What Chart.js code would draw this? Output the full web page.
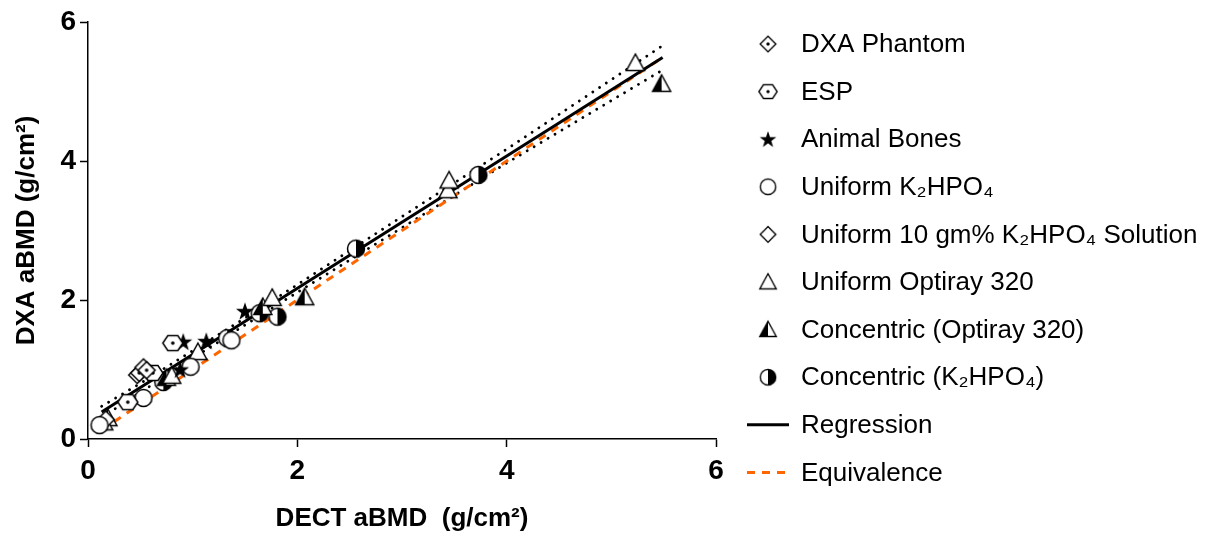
<!DOCTYPE html>
<html>
<head>
<meta charset="utf-8">
<script src="https://cdn.jsdelivr.net/npm/chart.js@4/dist/chart.umd.min.js"></script>
<style>
  html, body { margin: 0; background: #fff; }
  #wrap { width: 1214px; height: 537px; }
</style>
</head>
<body>
<div id="wrap"><canvas id="bmdChart"></canvas></div>
<script>
// values, aBMD in g/cm2
const dxaPhantomX = [0.49, 0.53, 0.56];
const dxaPhantomY = [0.95, 1.03, 0.99];
const espX = [0.38, 0.62, 0.81];
const espY = [0.53, 0.95, 1.38];
const boneX = [0.88, 0.91, 1.13, 1.50];
const boneY = [1.00, 1.40, 1.41, 1.84];
const uniK2X = [0.11, 0.53, 0.98, 1.37];
const uniK2Y = [0.20, 0.59, 1.04, 1.42];
const solX = [0.17, 0.47];
const solY = [0.28, 0.92];
const uniOptX = [0.15, 0.80, 1.05, 1.76, 3.44, 3.45, 5.23];
const uniOptY = [0.24, 0.91, 1.25, 2.03, 3.58, 3.72, 5.41];
const concOptX = [0.19, 0.75, 1.67, 2.07, 5.48];
const concOptY = [0.30, 0.88, 1.90, 2.04, 5.11];
const concK2X = [0.72, 1.33, 1.64, 1.81, 2.56, 3.73];
const concK2Y = [0.82, 1.45, 1.81, 1.76, 2.74, 3.80];

// fitted line and its 95% band
const regX = [0.13, 5.49];
const regY = [0.39, 5.49];
const bandX = [0.13, 0.5, 1, 1.5, 2, 3, 4, 5.49];
const bandUpper = [0.47, 0.80, 1.27, 1.74, 2.22, 3.20, 4.17, 5.66];
const bandLower = [0.31, 0.67, 1.16, 1.64, 2.11, 3.04, 3.97, 5.31];
const equivX = [0.13, 5.49];
const equivY = [0.13, 5.49];

const xTicks = [0, 2, 4, 6];
const yTicks = [0, 2, 4, 6];

const legendNames = [
  'DXA Phantom', 'ESP', 'Animal Bones', 'Uniform K\u2082HPO\u2084',
  'Uniform 10 gm% K\u2082HPO\u2084 Solution', 'Uniform Optiray 320',
  'Concentric (Optiray 320)', 'Concentric (K\u2082HPO\u2084)', 'Regression', 'Equivalence'
];

const ORANGE = 'rgb(255,102,0)';
const FONT = "'Liberation Sans', Arial, sans-serif";

function pts(xs, ys) {
  return xs.map((x, i) => ({ x: x, y: ys[i] }));
}

// marker images
function marker(draw) {
  const c = document.createElement('canvas');
  c.width = 24; c.height = 24;
  const g = c.getContext('2d');
  g.translate(12, 12);
  g.lineWidth = 1.5;
  g.strokeStyle = '#000';
  g.fillStyle = '#fff';
  draw(g);
  return c;
}
function polyPath(g, p) {
  g.beginPath();
  g.moveTo(p[0][0], p[0][1]);
  for (let i = 1; i < p.length; i++) g.lineTo(p[i][0], p[i][1]);
  g.closePath();
}
const diamondPts = [[0, -8.5], [8.5, 0], [0, 8.5], [-8.5, 0]];
const triPts = [[0, -9], [9, 7.5], [-9, 7.5]];
const hexPts = [[-10, 0], [-5, -7.5], [5, -7.5], [10, 0], [5, 7.5], [-5, 7.5]];

const mDiamondDot = marker(g => {
  polyPath(g, diamondPts); g.fill(); g.stroke();
  g.fillStyle = '#000'; g.beginPath(); g.arc(0, 0, 1.8, 0, Math.PI * 2); g.fill();
});
const mHexDot = marker(g => {
  polyPath(g, hexPts); g.fill(); g.stroke();
  g.fillStyle = '#000'; g.beginPath(); g.arc(0, 0, 1.8, 0, Math.PI * 2); g.fill();
});
const mStar = marker(g => {
  const p = [];
  for (let i = 0; i < 10; i++) {
    const r = i % 2 ? 3.8 : 9.5;
    const a = -Math.PI / 2 + i * Math.PI / 5;
    p.push([r * Math.cos(a), r * Math.sin(a) + 0.8]);
  }
  polyPath(g, p); g.fillStyle = '#000'; g.fill();
});
const mCircle = marker(g => {
  g.beginPath(); g.arc(0, 0, 8.5, 0, Math.PI * 2); g.fill(); g.stroke();
});
const mDiamond = marker(g => {
  polyPath(g, diamondPts); g.fill(); g.stroke();
});
const mTri = marker(g => {
  polyPath(g, triPts); g.fill(); g.stroke();
});
const mHalfTri = marker(g => {
  polyPath(g, triPts); g.fill();
  g.fillStyle = '#000';
  polyPath(g, [[0, -9], [0, 7.5], [-9, 7.5]]); g.fill();
  polyPath(g, triPts); g.stroke();
});
const mHalfCircle = marker(g => {
  g.beginPath(); g.arc(0, 0, 8.5, 0, Math.PI * 2); g.fill();
  g.fillStyle = '#000';
  g.beginPath(); g.arc(0, 0, 8.5, -Math.PI / 2, Math.PI / 2); g.closePath(); g.fill();
  g.beginPath(); g.arc(0, 0, 8.5, 0, Math.PI * 2); g.stroke();
});

function scatterSet(xs, ys, img) {
  return {
    type: 'scatter', data: pts(xs, ys), pointStyle: img,
    pointRadius: 9, pointHoverRadius: 9, showLine: false, order: 1
  };
}
function lineSet(xs, ys, color, width, dash, cap) {
  return {
    type: 'scatter', data: pts(xs, ys), showLine: true, pointRadius: 0,
    borderColor: color, borderWidth: width, borderDash: dash || [], borderCapStyle: cap || 'butt',
    fill: false, order: 2
  };
}

const datasets = [
  scatterSet(dxaPhantomX, dxaPhantomY, mDiamondDot),
  scatterSet(espX, espY, mHexDot),
  scatterSet(boneX, boneY, mStar),
  scatterSet(uniK2X, uniK2Y, mCircle),
  scatterSet(solX, solY, mDiamond),
  scatterSet(uniOptX, uniOptY, mTri),
  scatterSet(concOptX, concOptY, mHalfTri),
  scatterSet(concK2X, concK2Y, mHalfCircle),
  lineSet(regX, regY, '#000', 3),
  lineSet(equivX, equivY, ORANGE, 3, [8, 7]),
  // 95% band as round dots
  lineSet(bandX, bandUpper, '#000', 2.8, [0.1, 8], 'round'),
  lineSet(bandX, bandLower, '#000', 2.8, [0.1, 8], 'round')
];

const sideLegend = {
  id: 'sideLegend',
  afterDraw(chart) {
    const ctx = chart.ctx;
    const area = chart.chartArea;
    const mx = area.right + 52;
    const tx = area.right + 85;
    ctx.save();
    ctx.font = '26px ' + FONT;
    ctx.fillStyle = '#000';
    ctx.textBaseline = 'middle';
    ctx.textAlign = 'left';
    legendNames.forEach((name, i) => {
      const y = area.top + 22 + i * 47.6;
      const ds = chart.data.datasets[i];
      if (i < 8) {
        const s = 22;
        ctx.drawImage(ds.pointStyle, mx - s / 2, y - s / 2, s, s);
      } else {
        ctx.beginPath();
        ctx.lineWidth = 3;
        ctx.strokeStyle = ds.borderColor;
        ctx.setLineDash(ds.borderDash);
        ctx.moveTo(mx - 21, y);
        ctx.lineTo(mx + 21, y);
        ctx.stroke();
        ctx.setLineDash([]);
      }
      ctx.fillText(name, tx, y + 1);
    });
    ctx.restore();
  }
};

new Chart(document.getElementById('bmdChart'), {
  type: 'scatter',
  data: { datasets: datasets },
  options: {
    responsive: true,
    maintainAspectRatio: false,
    animation: false,
    layout: { padding: { left: 0, right: 498, top: 22, bottom: 0 } },
    plugins: { legend: { display: false }, tooltip: { enabled: false } },
    scales: {
      x: {
        type: 'linear', min: 0, max: 6,
        afterBuildTicks: s => { s.ticks = xTicks.map(v => ({ value: v })); },
        afterFit: s => { s.height = 98; },
        border: { display: true, color: '#000', width: 1.5 },
        grid: { drawOnChartArea: false, drawTicks: true, tickLength: 8, color: '#000', tickWidth: 1.5 },
        ticks: { color: '#000', padding: 7, font: { family: FONT, size: 28, weight: 'bold' }, maxRotation: 0 },
        title: { display: true, text: 'DECT aBMD  (g/cm\u00b2)', color: '#000',
          font: { family: FONT, size: 26, weight: 'bold' }, padding: { top: 0, bottom: 3 } }
      },
      y: {
        type: 'linear', min: 0, max: 6,
        afterBuildTicks: s => { s.ticks = yTicks.map(v => ({ value: v })); },
        afterFit: s => { s.width = 88; },
        border: { display: true, color: '#000', width: 1.5 },
        grid: { drawOnChartArea: false, drawTicks: true, tickLength: 8, color: '#000', tickWidth: 1.5 },
        ticks: { color: '#000', padding: 4, font: { family: FONT, size: 28, weight: 'bold' } },
        title: { display: true, text: 'DXA aBMD (g/cm\u00b2)', color: '#000',
          font: { family: FONT, size: 26, weight: 'bold' }, padding: { top: 11, bottom: 0 } }
      }
    }
  },
  plugins: [sideLegend]
});
</script>
</body>
</html>
